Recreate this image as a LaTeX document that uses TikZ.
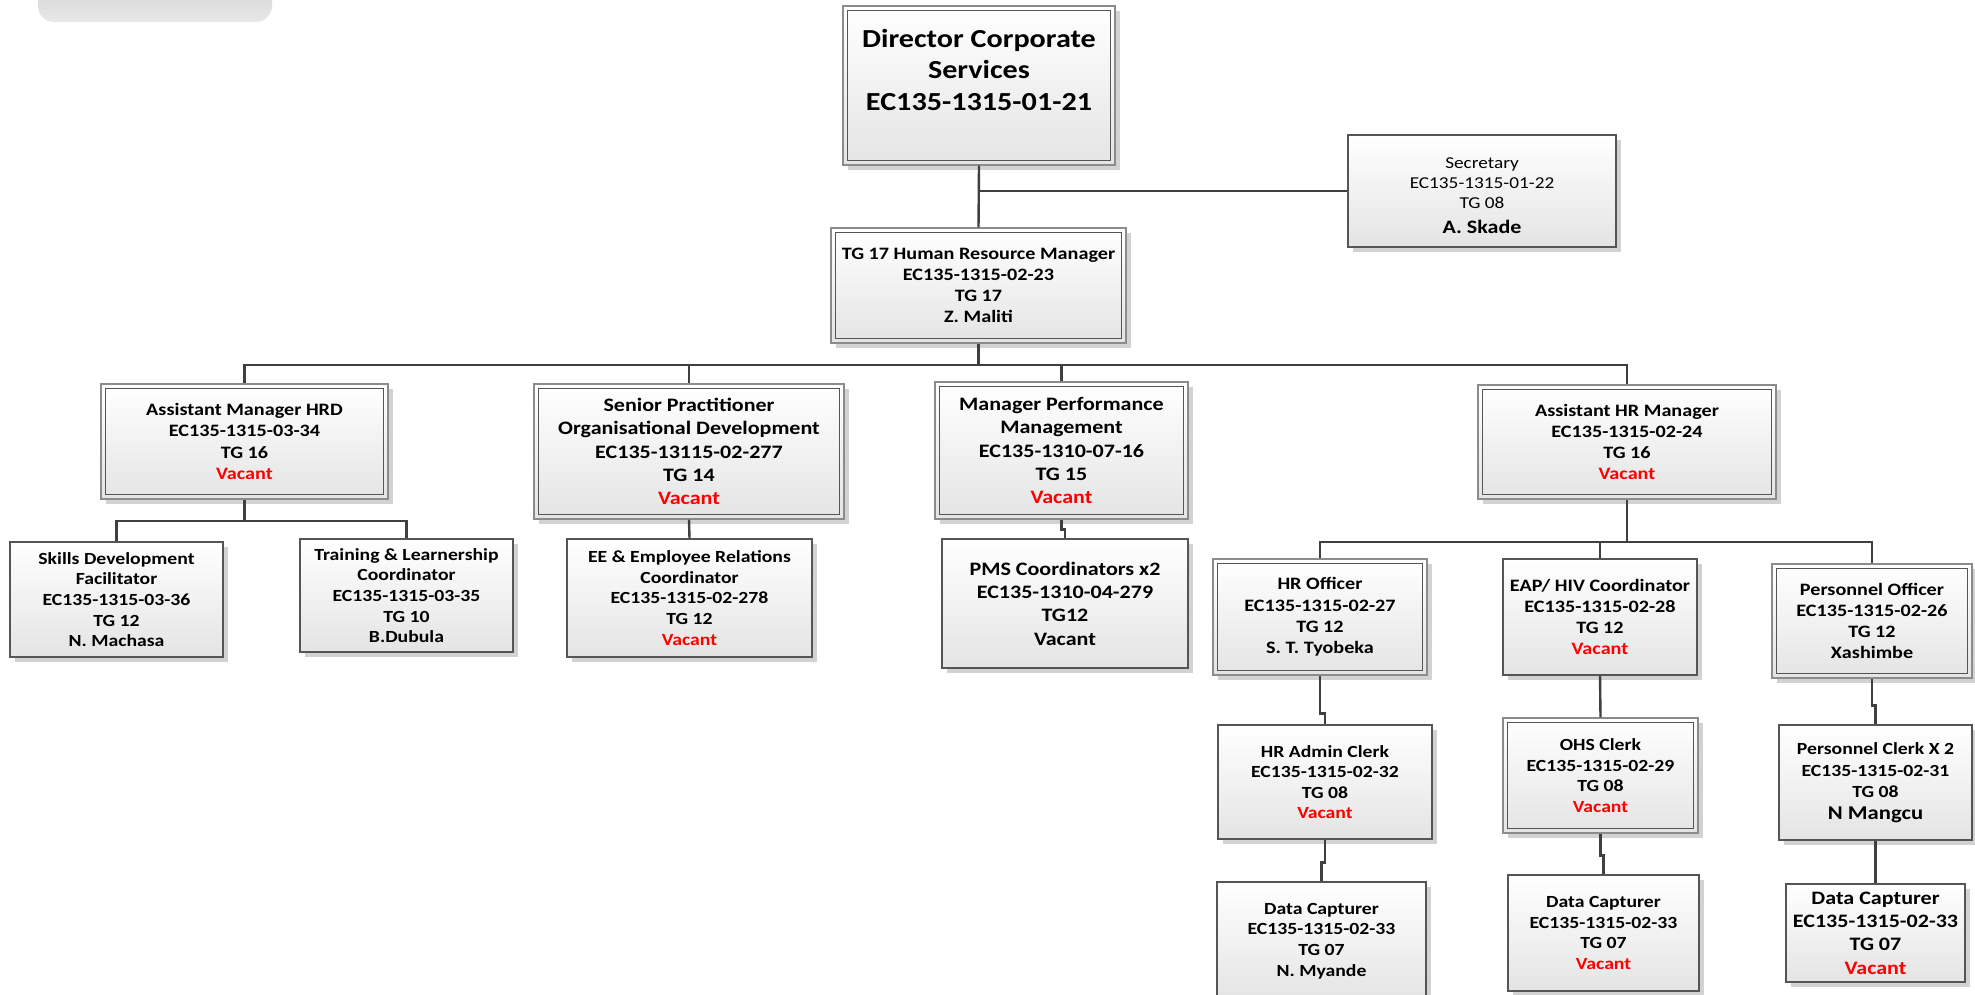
\documentclass[tikz,border=0pt]{standalone}
\usepackage{fontspec}
\setmainfont{Carlito}[FakeStretch=1.16]
\usetikzlibrary{calc}
\definecolor{linec}{HTML}{3F3F3F}
\definecolor{boxline}{HTML}{555555}
\definecolor{outerline}{HTML}{8C8C8C}
\definecolor{boxbot}{HTML}{E4E4E4}
\definecolor{shadowc}{HTML}{D2D2D2}
\definecolor{vacred}{HTML}{FF0000}
\newcommand{\vac}{\textcolor{vacred}{Vacant}}
\tikzset{
  box/.style={draw=boxline, line width=1.3pt, top color=white, bottom color=boxbot,
    inner sep=0pt, align=center,
    preaction={fill=shadowc, transform canvas={xshift=5pt, yshift=-5pt}}},
  dblbox/.style={box, draw=outerline, line width=1.1pt},
  conn/.style={draw=linec, line width=2.4pt},
  fA/.style={font=\fontsize{26}{31.5}\selectfont\bfseries},
  fB/.style={font=\fontsize{19}{23.4}\selectfont\bfseries},
  fC/.style={font=\fontsize{17.4}{21.2}\selectfont\bfseries},
  fD/.style={font=\fontsize{17}{20.6}\selectfont\bfseries},
  fS/.style={font=\fontsize{16.6}{20}\selectfont},
}
\begin{document}
\begin{tikzpicture}[x=1pt, y=-1pt]
\useasboundingbox (0,0) rectangle (1975,994);

% grey tab in the upper left corner
\shade[rounded corners=16pt, top color=gray!40, bottom color=gray!18]
  (38,-30) rectangle (272,22);

% top level
\node[dblbox, fA, minimum width=272pt, minimum height=159pt] (dir) at (979,85.5)
  {Director Corporate\\Services\\EC135-1315-01-21\\\mbox{}};
\node[box, minimum width=268pt, minimum height=112pt] (sec) at (1482,191) {};
\node[fS, align=center, inner sep=0pt] (sectext) at (1482,196)
  {Secretary\\EC135-1315-01-22\\TG 08\\[5pt]{\fontsize{19}{20}\selectfont\bfseries A. Skade}};
\node[dblbox, fC, minimum width=295pt, minimum height=115pt] (hrm) at (978.5,285.5)
  {TG 17 Human Resource Manager\\EC135-1315-02-23\\TG 17\\Z. Maliti};

% second level
\node[dblbox, fC, minimum width=287pt, minimum height=115pt] (amhrd) at (244.5,441.5)
  {Assistant Manager HRD\\EC135-1315-03-34\\TG 16\\\vac};
\node[dblbox, fB, minimum width=310pt, minimum height=135pt] (sp) at (689,451.5)
  {Senior Practitioner\\Organisational Development\\EC135-13115-02-277\\TG 14\\\vac};
\node[dblbox, fB, minimum width=253pt, minimum height=137pt] (mpm) at (1061.5,450.5)
  {Manager Performance\\Management\\EC135-1310-07-16\\TG 15\\\vac};
\node[dblbox, fC, minimum width=298pt, minimum height=114pt] (ahr) at (1627,442)
  {Assistant HR Manager\\EC135-1315-02-24\\TG 16\\\vac};

% third level
\node[box, fD, minimum width=213pt, minimum height=115pt] (skills) at (116.5,599.5)
  {Skills Development\\Facilitator\\EC135-1315-03-36\\TG 12\\N. Machasa};
\node[box, fD, minimum width=213pt, minimum height=113pt] (train) at (406.5,595.5)
  {Training \& Learnership\\Coordinator\\EC135-1315-03-35\\TG 10\\B.Dubula};
\node[box, fD, minimum width=245pt, minimum height=118pt] (ee) at (689.5,598)
  {EE \& Employee Relations\\Coordinator\\EC135-1315-02-278\\TG 12\\\vac};
\node[box, fB, minimum width=246pt, minimum height=129pt] (pms) at (1065,603.5)
  {PMS Coordinators x2\\EC135-1310-04-279\\TG12\\Vacant};
\node[dblbox, fC, minimum width=214pt, minimum height=116pt] (hro) at (1320,617)
  {HR Officer\\EC135-1315-02-27\\TG 12\\S. T. Tyobeka};
\node[box, fC, minimum width=194pt, minimum height=116pt] (eap) at (1600,617)
  {EAP/ HIV Coordinator\\EC135-1315-02-28\\TG 12\\\vac};
\node[dblbox, fC, minimum width=200pt, minimum height=114pt] (po) at (1872,621)
  {Personnel Officer\\EC135-1315-02-26\\TG 12\\Xashimbe};

% clerks
\node[box, fD, minimum width=214pt, minimum height=114pt] (hrac) at (1325,782)
  {HR Admin Clerk\\EC135-1315-02-32\\TG 08\\\vac};
\node[dblbox, fD, minimum width=195pt, minimum height=115pt] (ohs) at (1600.5,775.5)
  {OHS Clerk\\EC135-1315-02-29\\TG 08\\\vac};
\node[box, fD, font=\fontsize{17}{21.5}\selectfont\bfseries, minimum width=193pt, minimum height=115pt] (pc) at (1875.5,782.5)
  {Personnel Clerk X 2\\EC135-1315-02-31\\TG 08\\{\fontsize{19.5}{21.5}\selectfont\bfseries N Mangcu}};

% data capturers
\node[box, fD, minimum width=209pt, minimum height=118pt] (dc1) at (1321.5,941)
  {Data Capturer\\EC135-1315-02-33\\TG 07\\N. Myande};
\node[box, fD, minimum width=191pt, minimum height=116pt] (dc2) at (1603.5,933)
  {Data Capturer\\EC135-1315-02-33\\TG 07\\\vac};
\node[box, fB, minimum width=179pt, minimum height=98pt] (dc3) at (1875.5,933)
  {Data Capturer\\EC135-1315-02-33\\TG 07\\\vac};

% inner frame of the double-bordered boxes
\foreach \n in {dir,hrm,amhrd,sp,mpm,ahr,hro,po,ohs}
  \draw[draw=boxline, line width=1.3pt]
    ($(\n.north west)+(5pt,-5pt)$) rectangle ($(\n.south east)+(-5pt,5pt)$);

% bus lines
\coordinate (busA) at (0,365);
\coordinate (busB) at (0,521);
\coordinate (busC) at (0,542);

% connectors
\draw[conn] (dir.south) -- (hrm.north);
\draw[conn] (sec.west) -- (sec.west -| dir.south);
\draw[conn] (hrm.south) -- (hrm.south |- busA);
\draw[conn] (amhrd.north) -- (amhrd.north |- busA) -- (ahr.north |- busA) -- (ahr.north);
\draw[conn] (sp.north) -- (sp.north |- busA);
\draw[conn] (mpm.north) -- (mpm.north |- busA);

\draw[conn] (amhrd.south) -- (amhrd.south |- busB);
\draw[conn] (skills.north) -- (skills.north |- busB) -- (train.north |- busB) -- (train.north);
\draw[conn] (sp.south) -- (ee.north);
\draw[conn] (mpm.south) -- ++(0,10) -| (pms.north);

\draw[conn] (ahr.south) -- (ahr.south |- busC);
\draw[conn] (hro.north) -- (hro.north |- busC) -- (po.north |- busC) -- (po.north);
\draw[conn] (eap.north) -- (eap.north |- busC);

\draw[conn] (hro.south) -- ++(0,38) -| (hrac.north);
\draw[conn] (hrac.south) -- ++(0,23) -| (dc1.north);
\draw[conn] (eap.south) -- (ohs.north);
\draw[conn] (ohs.south) -- ++(0,22) -| (dc2.north);
\draw[conn] (po.south) -- ++(0,27) -| (pc.north);
\draw[conn] (pc.south) -- (dc3.north);
\end{tikzpicture}
\end{document}
